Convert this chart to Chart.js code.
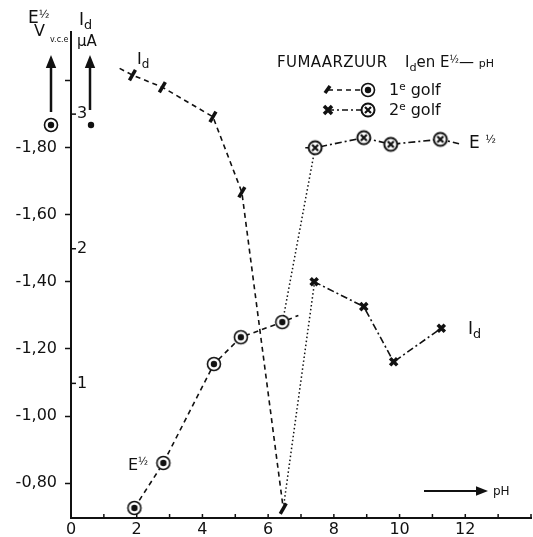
<!DOCTYPE html>
<html>
<head>
<meta charset="utf-8">
<title>Fumaarzuur: Id en E½ tegen pH</title>
<script src="https://cdn.jsdelivr.net/npm/chart.js@4.4.1/dist/chart.umd.min.js"></script>
<style>
  html, body { margin: 0; padding: 0; background: #fff; }
  #wrap { position: relative; width: 533px; height: 537px; overflow: hidden; font-family: 'DejaVu Sans', sans-serif; color: #111; }
  #chart { position: absolute; left: 0; top: 0; }
  .t { position: absolute; line-height: 1; white-space: nowrap; }
  .sub { font-size: 0.75em; position: relative; top: 0.35em; }
  .sup { font-size: 0.65em; position: relative; top: -0.45em; }
</style>
</head>
<body>
<div id="wrap">
  <canvas id="chart" width="533" height="537"></canvas>

  <span class="t" style="left:28px;top:9px;font-size:17px">E<span class="sup">½</span></span>
  <span class="t" style="left:34px;top:23px;font-size:16px">V</span>
  <span class="t" style="left:50px;top:36px;font-size:8px">v.c.e</span>
  <span class="t" style="left:79px;top:11px;font-size:17px">I<span class="sub">d</span></span>
  <span class="t" style="left:77px;top:34px;font-size:15px">µA</span>

  <span class="t" style="left:277px;top:55px;font-size:15px;letter-spacing:0.4px">FUMAARZUUR</span>
  <span class="t" style="left:405px;top:55px;font-size:15px">I<span class="sub">d</span>en E<span class="sup">½</span>— <span style="font-size:11px">pH</span></span>
  <span class="t" style="left:389px;top:82px;font-size:16px">1<span class="sup">e</span> golf</span>
  <span class="t" style="left:389px;top:102px;font-size:16px">2<span class="sup">e</span> golf</span>

  <span class="t" style="left:137px;top:51px;font-size:16px">I<span class="sub">d</span></span>
  <span class="t" style="left:128px;top:457px;font-size:16px">E<span class="sup">½</span></span>
  <span class="t" style="left:469px;top:134px;font-size:17px">E <span class="sup">½</span></span>
  <span class="t" style="left:468px;top:320px;font-size:17px">I<span class="sub">d</span></span>
  <span class="t" style="left:493px;top:485px;font-size:12px">pH</span>
</div>

<script>
// 1e golf: Id (µA) and E½ (V v.c.e) against pH; first entry of Id and last of E are line run-outs
const phId1 = [1.48, 1.87, 2.78, 4.32, 5.20, 6.46];
const id1 = [3.34, 3.29, 3.20, 2.98, 2.42, 0.07];
const phE1 = [1.93, 2.81, 4.35, 5.17, 6.43, 6.92];
const e1 = [-0.726, -0.86, -1.155, -1.235, -1.28, -1.30];

// 2e golf; first and last E entries are line run-outs
const phE2 = [7.13, 7.43, 8.91, 9.73, 11.24, 11.81];
const e2 = [-1.80, -1.80, -1.83, -1.81, -1.825, -1.812];
const phId2 = [7.40, 8.91, 9.82, 11.27];
const id2 = [1.755, 1.57, 1.16, 1.41];

// dotted links between 1e and 2e golf
const phLinkE = [6.47, 7.43];
const linkE = [-1.297, -1.80];
const phLinkId = [6.46, 7.40];
const linkId = [0.07, 1.73];

const xTicks = [0, 1, 2, 3, 4, 5, 6, 7, 8, 9, 10, 11, 12, 13, 14];
const xTickLabels = ['0', '', '2', '', '4', '', '6', '', '8', '', '10', '', '12', '', ''];
const eTicks = [-0.80, -1.00, -1.20, -1.40, -1.60, -1.80, -2.00];
const eTickLabels = ['-0,80', '-1,00', '-1,20', '-1,40', '-1,60', '-1,80', ''];
const idTicks = [1, 2, 3];
const idTickLabels = ['1', '2', '3'];

const black = '#111';
const tickFont = { family: "'DejaVu Sans', sans-serif", size: 16 };

function pts(xs, ys) {
    return xs.map((x, i) => ({ x: x, y: ys[i] }));
}

function marker(draw) {
    const c = document.createElement('canvas');
    c.width = 18;
    c.height = 18;
    draw(c.getContext('2d'));
    return c;
}

const circleDot = marker(g => {
    g.fillStyle = '#fff';
    g.beginPath(); g.arc(9, 9, 6.5, 0, Math.PI * 2); g.fill();
    g.lineWidth = 1.6; g.strokeStyle = black; g.stroke();
    g.fillStyle = black;
    g.beginPath(); g.arc(9, 9, 3.2, 0, Math.PI * 2); g.fill();
});

const circleCross = marker(g => {
    g.fillStyle = '#fff';
    g.beginPath(); g.arc(9, 9, 6.5, 0, Math.PI * 2); g.fill();
    g.lineWidth = 2; g.strokeStyle = black; g.stroke();
    g.lineWidth = 2.2;
    g.beginPath();
    g.moveTo(6, 6); g.lineTo(12, 12);
    g.moveTo(12, 6); g.lineTo(6, 12);
    g.stroke();
});

function arrow(ctx, x1, y1, x2, y2, head) {
    const a = Math.atan2(y2 - y1, x2 - x1);
    ctx.beginPath();
    ctx.moveTo(x1, y1);
    ctx.lineTo(x2 - Math.cos(a) * head, y2 - Math.sin(a) * head);
    ctx.stroke();
    ctx.beginPath();
    ctx.moveTo(x2, y2);
    ctx.lineTo(x2 - Math.cos(a) * head - Math.sin(a) * head * 0.4, y2 - Math.sin(a) * head + Math.cos(a) * head * 0.4);
    ctx.lineTo(x2 - Math.cos(a) * head + Math.sin(a) * head * 0.4, y2 - Math.sin(a) * head - Math.cos(a) * head * 0.4);
    ctx.closePath();
    ctx.fill();
}

const decorations = {
    id: 'decorations',
    afterDraw(chart) {
        const { ctx } = chart;
        const { x, y1 } = chart.scales;
        ctx.save();
        ctx.strokeStyle = black;
        ctx.fillStyle = black;

        // small ticks above the pH axis
        ctx.lineWidth = 1.5;
        xTicks.forEach(v => {
            const px = x.getPixelForValue(v);
            ctx.beginPath();
            ctx.moveTo(px, x.top);
            ctx.lineTo(px, x.top - 4);
            ctx.stroke();
        });
        // Id ticks on the right of the shared axis line
        idTicks.forEach(v => {
            const py = y1.getPixelForValue(v);
            ctx.beginPath();
            ctx.moveTo(x.left, py);
            ctx.lineTo(x.left + 5, py);
            ctx.stroke();
        });

        // axis arrows
        ctx.lineWidth = 2.5;
        arrow(ctx, 51, 112, 51, 55, 13);
        arrow(ctx, 90, 110, 90, 55, 13);
        ctx.lineWidth = 2;
        arrow(ctx, 424, 491, 488, 491, 12);
        ctx.drawImage(circleDot, 51 - 9, 125 - 9);
        ctx.beginPath(); ctx.arc(91, 125, 3.2, 0, Math.PI * 2); ctx.fill();

        // legend samples
        ctx.lineWidth = 1.6;
        ctx.setLineDash([5, 4]);
        ctx.beginPath(); ctx.moveTo(328, 90); ctx.lineTo(362, 90); ctx.stroke();
        ctx.setLineDash([6, 3, 2, 3]);
        ctx.beginPath(); ctx.moveTo(328, 110); ctx.lineTo(362, 110); ctx.stroke();
        ctx.setLineDash([]);
        ctx.lineWidth = 3.5;
        ctx.beginPath(); ctx.moveTo(325, 93); ctx.lineTo(330, 86); ctx.stroke();
        ctx.beginPath();
        ctx.moveTo(324, 106); ctx.lineTo(332, 114);
        ctx.moveTo(332, 106); ctx.lineTo(324, 114);
        ctx.stroke();
        ctx.drawImage(circleDot, 368 - 9, 90 - 9);
        ctx.drawImage(circleCross, 368 - 9, 110 - 9);
        ctx.restore();
    }
};

new Chart(document.getElementById('chart'), {
    type: 'line',
    data: {
        datasets: [
            {
                label: 'Id 1e golf',
                yAxisID: 'y1',
                data: pts(phId1, id1),
                borderColor: black,
                borderWidth: 1.6,
                borderDash: [5, 4],
                pointStyle: 'line',
                pointRotation: -60,
                pointRadius: [0, 6, 6, 6, 6, 6],
                pointBorderWidth: 3.5,
                pointBorderColor: black
            },
            {
                label: 'E½ 1e golf',
                yAxisID: 'y',
                data: pts(phE1, e1),
                borderColor: black,
                borderWidth: 1.6,
                borderDash: [5, 4],
                pointStyle: circleDot,
                pointRadius: [7, 7, 7, 7, 7, 0]
            },
            {
                label: 'E½ 2e golf',
                yAxisID: 'y',
                data: pts(phE2, e2),
                borderColor: black,
                borderWidth: 1.6,
                borderDash: [7, 3, 2, 3],
                pointStyle: circleCross,
                pointRadius: [0, 7, 7, 7, 7, 0]
            },
            {
                label: 'Id 2e golf',
                yAxisID: 'y1',
                data: pts(phId2, id2),
                borderColor: black,
                borderWidth: 1.6,
                borderDash: [7, 3, 2, 3],
                pointStyle: 'crossRot',
                pointRadius: 5,
                pointBorderWidth: 3.5,
                pointBorderColor: black
            },
            {
                label: 'E½ overgang',
                yAxisID: 'y',
                data: pts(phLinkE, linkE),
                borderColor: black,
                borderWidth: 1.5,
                borderDash: [1.5, 2.5],
                pointRadius: 0
            },
            {
                label: 'Id overgang',
                yAxisID: 'y1',
                data: pts(phLinkId, linkId),
                borderColor: black,
                borderWidth: 1.5,
                borderDash: [1.5, 2.5],
                pointRadius: 0
            }
        ]
    },
    options: {
        responsive: false,
        animation: false,
        layout: { autoPadding: false, padding: { top: 32, left: 0, right: 0, bottom: 0 } },
        plugins: {
            legend: { display: false },
            tooltip: { enabled: false }
        },
        scales: {
            x: {
                type: 'linear',
                min: 0,
                max: 14,
                afterBuildTicks: s => { s.ticks = xTicks.map(v => ({ value: v })); },
                afterFit: s => { s.height = 19; },
                grid: { drawOnChartArea: false, drawTicks: false },
                border: { color: black, width: 2 },
                ticks: {
                    autoSkip: false,
                    maxRotation: 0,
                    padding: 2,
                    color: black,
                    font: tickFont,
                    callback: (v, i) => xTickLabels[i]
                }
            },
            y: {
                type: 'linear',
                position: 'left',
                weight: 1,
                reverse: true,
                min: -2.145,
                max: -0.696,
                afterBuildTicks: s => { s.ticks = eTicks.map(v => ({ value: v })); },
                afterFit: s => { s.width = 71; },
                grid: { drawOnChartArea: false, tickLength: 6, tickWidth: 1.5, tickColor: black },
                border: { color: black, width: 2 },
                ticks: {
                    padding: 8,
                    color: black,
                    font: tickFont,
                    callback: (v, i) => eTickLabels[i]
                }
            },
            y1: {
                type: 'linear',
                position: 'left',
                weight: 0,
                min: 0,
                max: 3.61,
                afterBuildTicks: s => { s.ticks = idTicks.map(v => ({ value: v })); },
                afterFit: s => { s.width = 0; },
                grid: { display: false },
                border: { display: false },
                ticks: {
                    mirror: true,
                    padding: 6,
                    color: black,
                    font: tickFont,
                    callback: (v, i) => idTickLabels[i]
                }
            }
        }
    },
    plugins: [decorations]
});
</script>
</body>
</html>
